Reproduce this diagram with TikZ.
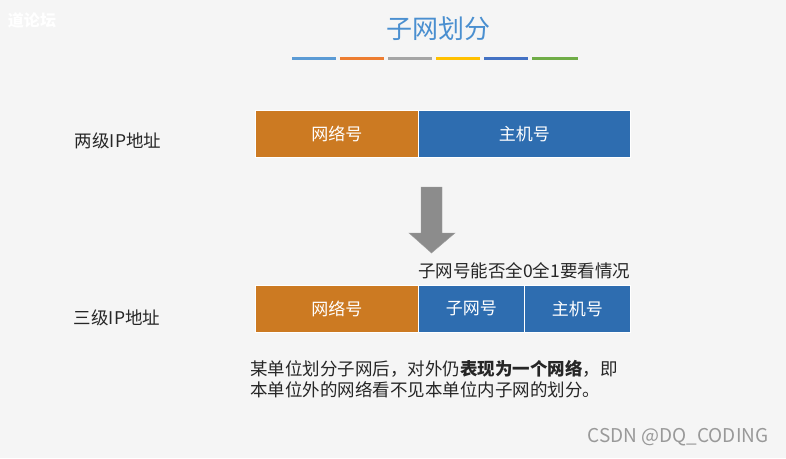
\documentclass[tikz,border=0pt]{standalone}
\usepackage{fontspec}
\setmainfont{Noto Sans CJK SC}
\definecolor{bg}{HTML}{F5F5F5}
\definecolor{org}{HTML}{CC7A22}
\definecolor{blu}{HTML}{2E6DB0}
\definecolor{ttl}{HTML}{4A8FD0}
\tikzset{
  seg/.style={draw=white,line width=0.6pt,inner sep=0pt,anchor=north west,text=white,font=\fontsize{17}{19}\selectfont},
  bar/.style={line width=3pt},
  lbl/.style={font=\fontsize{17.5}{20}\selectfont,text=black!85}
}
\begin{document}
\begin{tikzpicture}[x=1pt,y=-1pt]
\fill[bg] (0,0) rectangle (786,458);
\useasboundingbox (0,0) rectangle (786,458);
\node[text=white,font=\fontsize{16}{18}\selectfont\bfseries] (wm) at (32,20) {道论坛};
\node[text=ttl,font=\fontsize{26}{30}\selectfont] (title) at (438,29) {子网划分};
\draw[bar,color={rgb,255:red,91;green,155;blue,213}] (292,58) -- (336,58);
\draw[bar,color={rgb,255:red,237;green,125;blue,49}] (340,58) -- (384,58);
\draw[bar,color={rgb,255:red,165;green,165;blue,165}] (388,58) -- (432,58);
\draw[bar,color={rgb,255:red,255;green,192;blue,0}] (436,58) -- (480,58);
\draw[bar,color={rgb,255:red,68;green,114;blue,196}] (484,58) -- (528,58);
\draw[bar,color={rgb,255:red,112;green,173;blue,71}] (532,58) -- (578,58);
% row 1
\node[seg,fill=org,minimum width=163pt,minimum height=47pt] (n1) at (255,110) {网络号};
\node[seg,fill=blu,minimum width=212pt,minimum height=47pt] (h1) at (418,110) {主机号};
\node[lbl] (l1) at (118,141) {两级IP地址};
% arrow
\fill[gray!90,draw=gray!75] (421,187) -- (442,187) -- (442,233) -- (455,233) -- (431.5,253) -- (409,233) -- (421,233) -- cycle;
\node[lbl,anchor=west,inner sep=0pt] (note) at (418,271) {子网号能否全0全1要看情况};
% row 2
\node[seg,fill=org,minimum width=163pt,minimum height=47pt] (n2) at (255,285) {网络号};
\node[seg,fill=blu,minimum width=106pt,minimum height=47pt] (s2) at (418,285) {子网号};
\node[seg,fill=blu,minimum width=106pt,minimum height=47pt] (h2) at (524,285) {主机号};
\node[lbl] (l2) at (117,318) {三级IP地址};
\node[lbl,anchor=west,inner sep=0pt] (t1) at (250,369) {某单位划分子网后，对外仍\textbf{表现为一个网络}，即};
\node[lbl,anchor=west,inner sep=0pt] (t2) at (250,390) {本单位外的网络看不见本单位内子网的划分。};
\node[text=gray!80,font=\fontsize{19}{22}\selectfont] (csdn) at (678,437) {CSDN @DQ\_CODING};
\end{tikzpicture}
\end{document}
